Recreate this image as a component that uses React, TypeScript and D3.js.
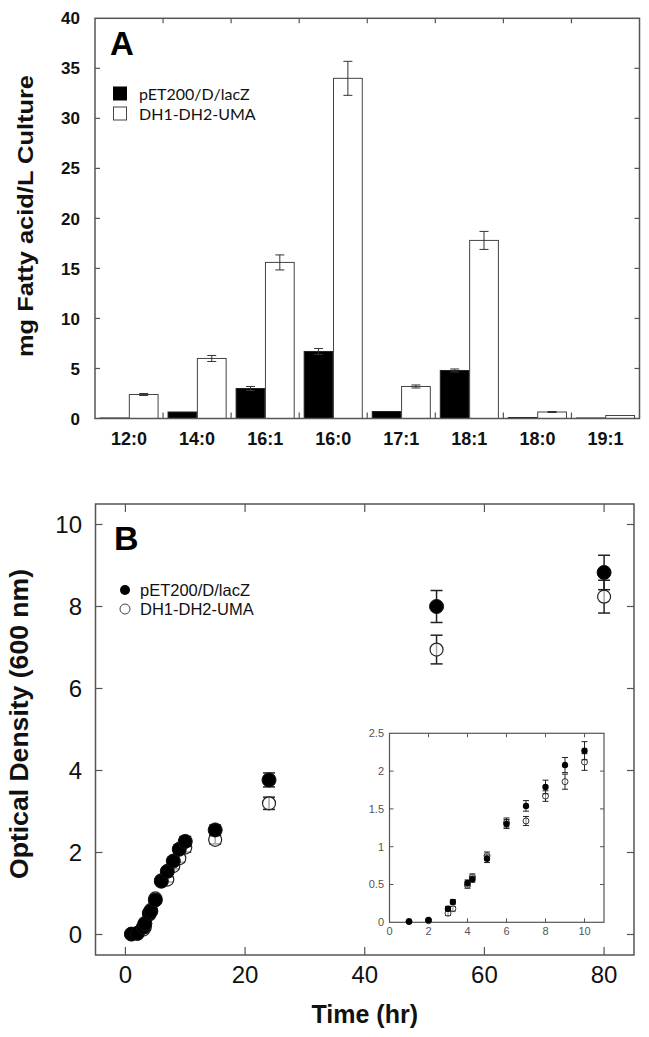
import React from "react";
import * as d3 from "d3";

// ---------- Panel A data ----------
const categories = ["12:0", "14:0", "16:1", "16:0", "17:1", "18:1", "18:0", "19:1"];
const controlValues = [0.05, 0.65, 3.0, 6.7, 0.7, 4.8, 0.1, 0.05];
const controlErrors = [0, 0, 0.2, 0.3, 0, 0.15, 0, 0];
const umaValues = [2.4, 6.0, 15.6, 34.0, 3.2, 17.8, 0.65, 0.3];
const umaErrors = [0.1, 0.3, 0.75, 1.7, 0.15, 0.9, 0.05, 0];
const yTicksA = [0, 5, 10, 15, 20, 25, 30, 35, 40];
const seriesNames = ["pET200/D/lacZ", "DH1-DH2-UMA"];

// ---------- Panel B data ----------
const timeHr = [1, 2, 3, 3.25, 4, 4.25, 5, 6, 7, 8, 9, 10, 15, 24, 52, 80];
const odControl = [0.01, 0.03, 0.18, 0.27, 0.52, 0.57, 0.84, 1.3, 1.54, 1.79, 2.08, 2.27, 2.55, 3.77, 8.0, 8.83];
const odControlErr = [0.01, 0.01, 0.03, 0.03, 0.04, 0.04, 0.05, 0.06, 0.07, 0.09, 0.1, 0.12, 0.12, 0.17, 0.39, 0.42];
const odUma = [0.01, 0.02, 0.12, 0.18, 0.49, 0.6, 0.88, 1.32, 1.34, 1.67, 1.86, 2.12, 2.31, 3.2, 6.95, 8.24];
const odUmaErr = [0.01, 0.01, 0.03, 0.03, 0.04, 0.04, 0.05, 0.06, 0.06, 0.07, 0.1, 0.11, 0.1, 0.15, 0.35, 0.4];
const xTicksB = [0, 20, 40, 60, 80];
const yTicksB = [0, 2, 4, 6, 8, 10];
const insetMaxTime = 10;
const xTicksInset = [0, 2, 4, 6, 8, 10];
const yTicksInset = [0, 0.5, 1, 1.5, 2, 2.5];

const ARIAL = "Arial, 'Liberation Sans', sans-serif";
const FRAME = "#555";

function PanelA() {
  const left = 95, right = 639.5, top = 18.3, bottom = 418.5;
  const x = d3.scaleBand<string>().domain(categories).range([left, right]).paddingInner(0).paddingOuter(0);
  const inner = d3.scaleBand<string>().domain(["c", "u"]).range([0, x.bandwidth()]).paddingInner(0.02).paddingOuter(0.17);
  const y = d3.scaleLinear().domain([0, 40]).range([bottom, top]);
  const boundaries = categories.slice(1).map((c) => x(c) as number);
  const bw = inner.bandwidth();
  return (
    <g>
      {/* bars */}
      {categories.map((c, i) => {
        const gx = x(c) as number;
        const cx = gx + (inner("c") as number);
        const ux = gx + (inner("u") as number);
        return (
          <g key={c}>
            <rect x={cx} y={y(controlValues[i])} width={bw} height={y(0) - y(controlValues[i])} fill="#000" stroke="#222" strokeWidth={1} />
            <rect x={ux} y={y(umaValues[i])} width={bw} height={y(0) - y(umaValues[i])} fill="#fff" stroke="#444" strokeWidth={1} />
            {controlErrors[i] > 0 && (
              <g stroke="#333" strokeWidth={1}>
                <line x1={cx + bw / 2} x2={cx + bw / 2} y1={y(controlValues[i] - controlErrors[i])} y2={y(controlValues[i] + controlErrors[i])} />
                <line x1={cx + bw / 2 - 4.5} x2={cx + bw / 2 + 4.5} y1={y(controlValues[i] + controlErrors[i])} y2={y(controlValues[i] + controlErrors[i])} />
                <line x1={cx + bw / 2 - 4.5} x2={cx + bw / 2 + 4.5} y1={y(controlValues[i] - controlErrors[i])} y2={y(controlValues[i] - controlErrors[i])} />
              </g>
            )}
            {umaErrors[i] > 0 && (
              <g stroke="#333" strokeWidth={1}>
                <line x1={ux + bw / 2} x2={ux + bw / 2} y1={y(umaValues[i] - umaErrors[i])} y2={y(umaValues[i] + umaErrors[i])} />
                <line x1={ux + bw / 2 - 4.5} x2={ux + bw / 2 + 4.5} y1={y(umaValues[i] + umaErrors[i])} y2={y(umaValues[i] + umaErrors[i])} />
                <line x1={ux + bw / 2 - 4.5} x2={ux + bw / 2 + 4.5} y1={y(umaValues[i] - umaErrors[i])} y2={y(umaValues[i] - umaErrors[i])} />
              </g>
            )}
          </g>
        );
      })}
      {/* frame */}
      <rect x={left} y={top} width={right - left} height={bottom - top} fill="none" stroke={FRAME} strokeWidth={1.5} />
      {/* ticks */}
      <g stroke={FRAME} strokeWidth={1.2}>
        {yTicksA.slice(1, -1).map((t) => (
          <g key={t}>
            <line x1={left} x2={left + 5} y1={y(t)} y2={y(t)} />
            <line x1={right - 5} x2={right} y1={y(t)} y2={y(t)} />
          </g>
        ))}
        {boundaries.map((b, i) => (
          <g key={i}>
            <line x1={b} x2={b} y1={top} y2={top + 5} />
            <line x1={b} x2={b} y1={bottom} y2={bottom - 6} />
          </g>
        ))}
      </g>
      {/* tick labels */}
      <g fontFamily={ARIAL} fontWeight="bold" fontSize={17} fill="#111">
        {yTicksA.map((t) => (
          <text key={t} x={80} y={y(t)} dy="0.36em" textAnchor="end">{t}</text>
        ))}
        {categories.map((c) => (
          <text key={c} x={(x(c) as number) + x.bandwidth() / 2} y={445} fontSize={18} textAnchor="middle">{c}</text>
        ))}
      </g>
      {/* axis title */}
      <text transform="translate(33,216) rotate(-90)" textAnchor="middle" fontFamily={ARIAL} fontWeight="bold" fontSize={22} textLength={282} lengthAdjust="spacingAndGlyphs" fill="#111">
        mg Fatty acid/L Culture
      </text>
      {/* panel letter */}
      <text x={110} y={55} fontFamily={ARIAL} fontWeight="bold" fontSize={33} fill="#000">A</text>
      {/* legend */}
      <rect x={113.5} y={87} width={13} height={13} fill="#000" stroke="#000" />
      <rect x={113.5} y={107} width={13} height={13} fill="#fff" stroke="#444" />
      <g fontFamily="Lato, 'Open Sans', sans-serif" fontSize={16} fill="#111">
        <text x={139} y={100}>{seriesNames[0]}</text>
        <text x={139} y={120}>{seriesNames[1]}</text>
      </g>
    </g>
  );
}

function ErrorBar({ cx, y1, y2, cap, sw }: { cx: number; y1: number; y2: number; cap: number; sw: number }) {
  return (
    <g stroke="#222" strokeWidth={sw}>
      <line x1={cx} x2={cx} y1={y1} y2={y2} />
      <line x1={cx - cap / 2} x2={cx + cap / 2} y1={y1} y2={y1} />
      <line x1={cx - cap / 2} x2={cx + cap / 2} y1={y2} y2={y2} />
    </g>
  );
}

function PanelB() {
  const left = 95.5, right = 634, top = 504, bottom = 955;
  const x = d3.scaleLinear().domain([-5, 85]).range([left, right]);
  const y = d3.scaleLinear().domain([-0.5, 10.5]).range([bottom, top]);

  // inset
  const il = 389.5, ir = 604, it = 733.3, ib = 922.3;
  const xi = d3.scaleLinear().domain([0, 11]).range([il, ir]);
  const yi = d3.scaleLinear().domain([0, 2.5]).range([ib, it]);
  const insetIdx = timeHr.map((t, i) => i).filter((i) => timeHr[i] <= insetMaxTime);

  return (
    <g>
      {/* open series (main) */}
      {timeHr.map((t, i) => (
        <g key={"u" + i}>
          <ErrorBar cx={x(t)} y1={y(odUma[i] + odUmaErr[i])} y2={y(odUma[i] - odUmaErr[i])} cap={12} sw={1.5} />
          <circle cx={x(t)} cy={y(odUma[i])} r={6.5} fill="#fff" fillOpacity={0.6} stroke="#222" strokeWidth={1.2} />
        </g>
      ))}
      {timeHr.map((t, i) => (
        <g key={"c" + i}>
          <ErrorBar cx={x(t)} y1={y(odControl[i] + odControlErr[i])} y2={y(odControl[i] - odControlErr[i])} cap={12} sw={1.5} />
          <circle cx={x(t)} cy={y(odControl[i])} r={7} fill="#000" stroke="#111" strokeWidth={1} />
        </g>
      ))}
      {/* frame */}
      <rect x={left} y={top} width={right - left} height={bottom - top} fill="none" stroke={FRAME} strokeWidth={1.5} />
      <g stroke={FRAME} strokeWidth={1.2}>
        {yTicksB.map((t) => (
          <g key={t}>
            <line x1={left} x2={left + 7} y1={y(t)} y2={y(t)} />
            <line x1={right - 7} x2={right} y1={y(t)} y2={y(t)} />
          </g>
        ))}
        {xTicksB.map((t) => (
          <g key={t}>
            <line x1={x(t)} x2={x(t)} y1={top} y2={top + 8} />
            <line x1={x(t)} x2={x(t)} y1={bottom} y2={bottom - 8} />
          </g>
        ))}
      </g>
      <g fontFamily={ARIAL} fontSize={24} fill="#111">
        {yTicksB.map((t) => (
          <text key={t} x={82} y={y(t)} dy="0.36em" textAnchor="end">{t}</text>
        ))}
        {xTicksB.map((t) => (
          <text key={t} x={x(t)} y={983} textAnchor="middle">{t}</text>
        ))}
      </g>
      <text x={(left + right) / 2} y={1023} textAnchor="middle" fontFamily={ARIAL} fontWeight="bold" fontSize={25} fill="#111">Time (hr)</text>
      <text transform="translate(28,724) rotate(-90)" textAnchor="middle" fontFamily={ARIAL} fontWeight="bold" fontSize={26} textLength={310} lengthAdjust="spacingAndGlyphs" fill="#111">
        Optical Density (600 nm)
      </text>
      <text x={114} y={550} fontFamily={ARIAL} fontWeight="bold" fontSize={34} fill="#000">B</text>
      {/* legend */}
      <circle cx={125} cy={590} r={5} fill="#000" />
      <circle cx={125} cy={609} r={5} fill="#fff" stroke="#444" strokeWidth={1} />
      <g fontFamily={ARIAL} fontSize={16.5} fill="#111">
        <text x={140} y={596}>{seriesNames[0]}</text>
        <text x={140} y={615}>{seriesNames[1]}</text>
      </g>

      {/* inset */}
      <rect x={il} y={it} width={ir - il} height={ib - it} fill="#fff" stroke={FRAME} strokeWidth={1.2} />
      <g stroke={FRAME} strokeWidth={1}>
        {yTicksInset.slice(1, -1).map((t) => (
          <g key={t}>
            <line x1={il} x2={il + 4} y1={yi(t)} y2={yi(t)} />
            <line x1={ir - 4} x2={ir} y1={yi(t)} y2={yi(t)} />
          </g>
        ))}
        {xTicksInset.slice(1).map((t) => (
          <g key={t}>
            <line x1={xi(t)} x2={xi(t)} y1={it} y2={it + 4} />
            <line x1={xi(t)} x2={xi(t)} y1={ib} y2={ib - 4} />
          </g>
        ))}
      </g>
      <g fontFamily={ARIAL} fontSize={11} fill="#555">
        {yTicksInset.map((t) => (
          <text key={t} x={384} y={yi(t)} dy="0.36em" textAnchor="end">{t}</text>
        ))}
        {xTicksInset.map((t) => (
          <text key={t} x={xi(t)} y={935} textAnchor="middle">{t}</text>
        ))}
      </g>
      {insetIdx.map((i) => (
        <g key={"iu" + i}>
          <ErrorBar cx={xi(timeHr[i])} y1={yi(odUma[i] + odUmaErr[i])} y2={yi(odUma[i] - odUmaErr[i])} cap={6} sw={1} />
          <circle cx={xi(timeHr[i])} cy={yi(odUma[i])} r={3} fill="#fff" fillOpacity={0.5} stroke="#333" strokeWidth={1} />
        </g>
      ))}
      {insetIdx.map((i) => (
        <g key={"ic" + i}>
          <ErrorBar cx={xi(timeHr[i])} y1={yi(odControl[i] + odControlErr[i])} y2={yi(odControl[i] - odControlErr[i])} cap={6} sw={1} />
          <circle cx={xi(timeHr[i])} cy={yi(odControl[i])} r={3.2} fill="#000" />
        </g>
      ))}
    </g>
  );
}

export default function App() {
  return (
    <svg width={649} height={1037} style={{ position: "absolute", left: 0, top: 0, display: "block", background: "#fff" }}>
      <rect x={0} y={0} width={649} height={1037} fill="#fff" />
      <PanelA />
      <PanelB />
    </svg>
  );
}
